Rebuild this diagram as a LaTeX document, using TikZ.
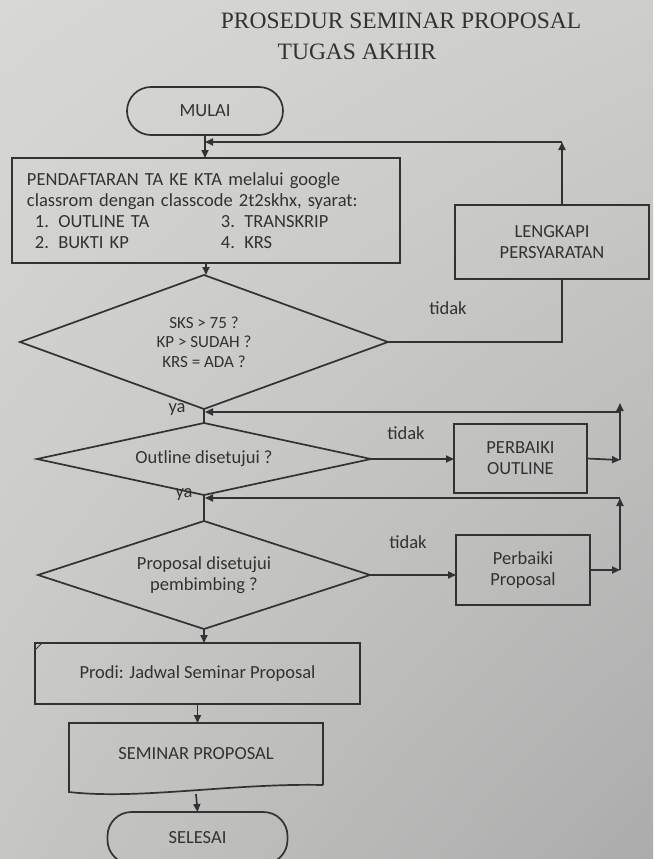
\documentclass[tikz,border=0pt]{standalone}
\usepackage{fontspec}
\usepackage{tikz}
\usetikzlibrary{arrows.meta,calc,shadings}
\setmainfont{Carlito}
\newfontfamily\serifT{Liberation Serif}
\definecolor{ink}{RGB}{50,50,50}
\definecolor{paperA}{RGB}{216,216,213}
\definecolor{paperB}{RGB}{206,206,204}
\definecolor{paperC}{RGB}{198,198,196}
\definecolor{paperD}{RGB}{172,172,172}

\begin{document}
\begin{tikzpicture}[x=1pt,y=-1pt,line width=1.7pt,color=ink,
  every node/.style={font=\fontsize{18.5}{21}\selectfont},
  box/.style={draw,rectangle,inner sep=0pt,outer sep=0pt,align=center},
  term/.style={box,rounded corners=24pt},
  dec/.style={rectangle,inner sep=0pt,outer sep=0pt,align=center},
  arr/.style={-{Triangle[length=8pt,width=7pt]}},
  lbl/.style={inner sep=0pt}]
\useasboundingbox (0,0) rectangle (653,859);
\shade[upper left=paperA,upper right=paperB,lower left=paperC,lower right=paperD] (0,0) rectangle (653,859);
\node[font=\serifT\fontsize{23.5}{28}\selectfont] (title1) at (401,21) {PROSEDUR SEMINAR PROPOSAL};
\node[font=\serifT\fontsize{23.5}{28}\selectfont] (title2) at (357,52) {TUGAS AKHIR};

\node[term,minimum width=156,minimum height=48] (mulai) at (205,111) {MULAI};
\node[box,align=left,text width=358pt,minimum width=388,minimum height=105] (daftar) at (206,210.5)
  {PENDAFTARAN TA KE KTA melalui google\\ classrom dengan classcode 2t2skhx, syarat:\\
   \hspace*{8pt}\makebox[186pt][l]{1. OUTLINE TA}3. TRANSKRIP\\ \hspace*{8pt}\makebox[186pt][l]{2. BUKTI KP}4. KRS};
\node[box,minimum width=194,minimum height=74] (lengkapi) at (552,242) {LENGKAPI\\PERSYARATAN};
\node[dec,font=\fontsize{17}{19.5}\selectfont,minimum width=368,minimum height=134] (d1) at (204,342)
  {SKS > 75 ?\\ KP > SUDAH ?\\ KRS = ADA ?};
\node[dec,minimum width=334,minimum height=72] (d2) at (204,459) {Outline disetujui ?};
\node[box,minimum width=133,minimum height=69] (po) at (520.5,458.5) {PERBAIKI\\OUTLINE};
\node[dec,minimum width=332,minimum height=108] (d3) at (204,575) {Proposal disetujui\\pembimbing ?};
\node[box,minimum width=134,minimum height=70] (pp) at (523,570) {Perbaiki\\Proposal};
\foreach \d in {d1,d2,d3} \draw (\d.north) -- (\d.east) -- (\d.south) -- (\d.west) -- cycle;
\node[box,minimum width=325,minimum height=61] (prodi) at (197.5,673.5) {Prodi: Jadwal Seminar Proposal};
\draw[line width=0.8pt] ([yshift=-7pt]prodi.north west) -- ([xshift=7pt]prodi.north west);
\node[box,draw=none,minimum width=254,minimum height=62] (semprop) at (196,754) {SEMINAR PROPOSAL};
\draw (semprop.south east) -- (semprop.north east) -- (semprop.north west) -- ([yshift=-7pt]semprop.south west)
  .. controls ($(semprop.south west)+(70,15)$) and ($(semprop.south east)+(-90,-2)$) .. (semprop.south east);
\node[term,minimum width=180,minimum height=52] (selesai) at (197.5,838) {SELESAI};

\node[lbl] (t1) at (448,308) {tidak};
\node[lbl] (t2) at (406,433) {tidak};
\node[lbl] (t3) at (408,542) {tidak};
\node[lbl] (ya1) at (177,409) {ya};
\node[lbl] (ya2) at (184,494) {ya};

\coordinate (k1) at (562,142); \coordinate (j1) at (205,142);
\coordinate (k2) at (620,460); \coordinate (k2t) at (620,403); \coordinate (j2) at (205,412);
\coordinate (k3) at (620,570); \coordinate (k3t) at (620,498); \coordinate (j3) at (205,498);

\draw[arr] (mulai.south) -- (mulai.south |- daftar.north);
\draw[arr] (daftar.south) -- (daftar.south |- d1.north);
\draw (d1.east) -- (d1.east -| k1) -- (lengkapi.south -| k1);
\draw[arr] (lengkapi.north -| k1) -- (k1); \draw[arr] (k1) -- (j1);
\draw (d1.south) -- (d2.north);
\draw[arr] (d2.east) -- (d2.east -| po.west);
\draw[arr] (po.east) -- (k2); \draw[arr] (k2) -- (k2t); \draw[arr] (k2 |- j2) -- (j2);
\draw (d2.south) -- (d3.north);
\draw[arr] (d3.east) -- (d3.east -| pp.west);
\draw[arr] (pp.east) -- (k3); \draw[arr] (k3) -- (k3t); \draw[arr] (k3t) -- (j3);
\draw[arr] (d3.south) -- (d3.south |- prodi.north);
\draw[arr] (prodi.south) -- (prodi.south |- semprop.north);
\draw[arr] ([yshift=-9pt]semprop.south) -- (selesai.north);
\end{tikzpicture}
\end{document}
